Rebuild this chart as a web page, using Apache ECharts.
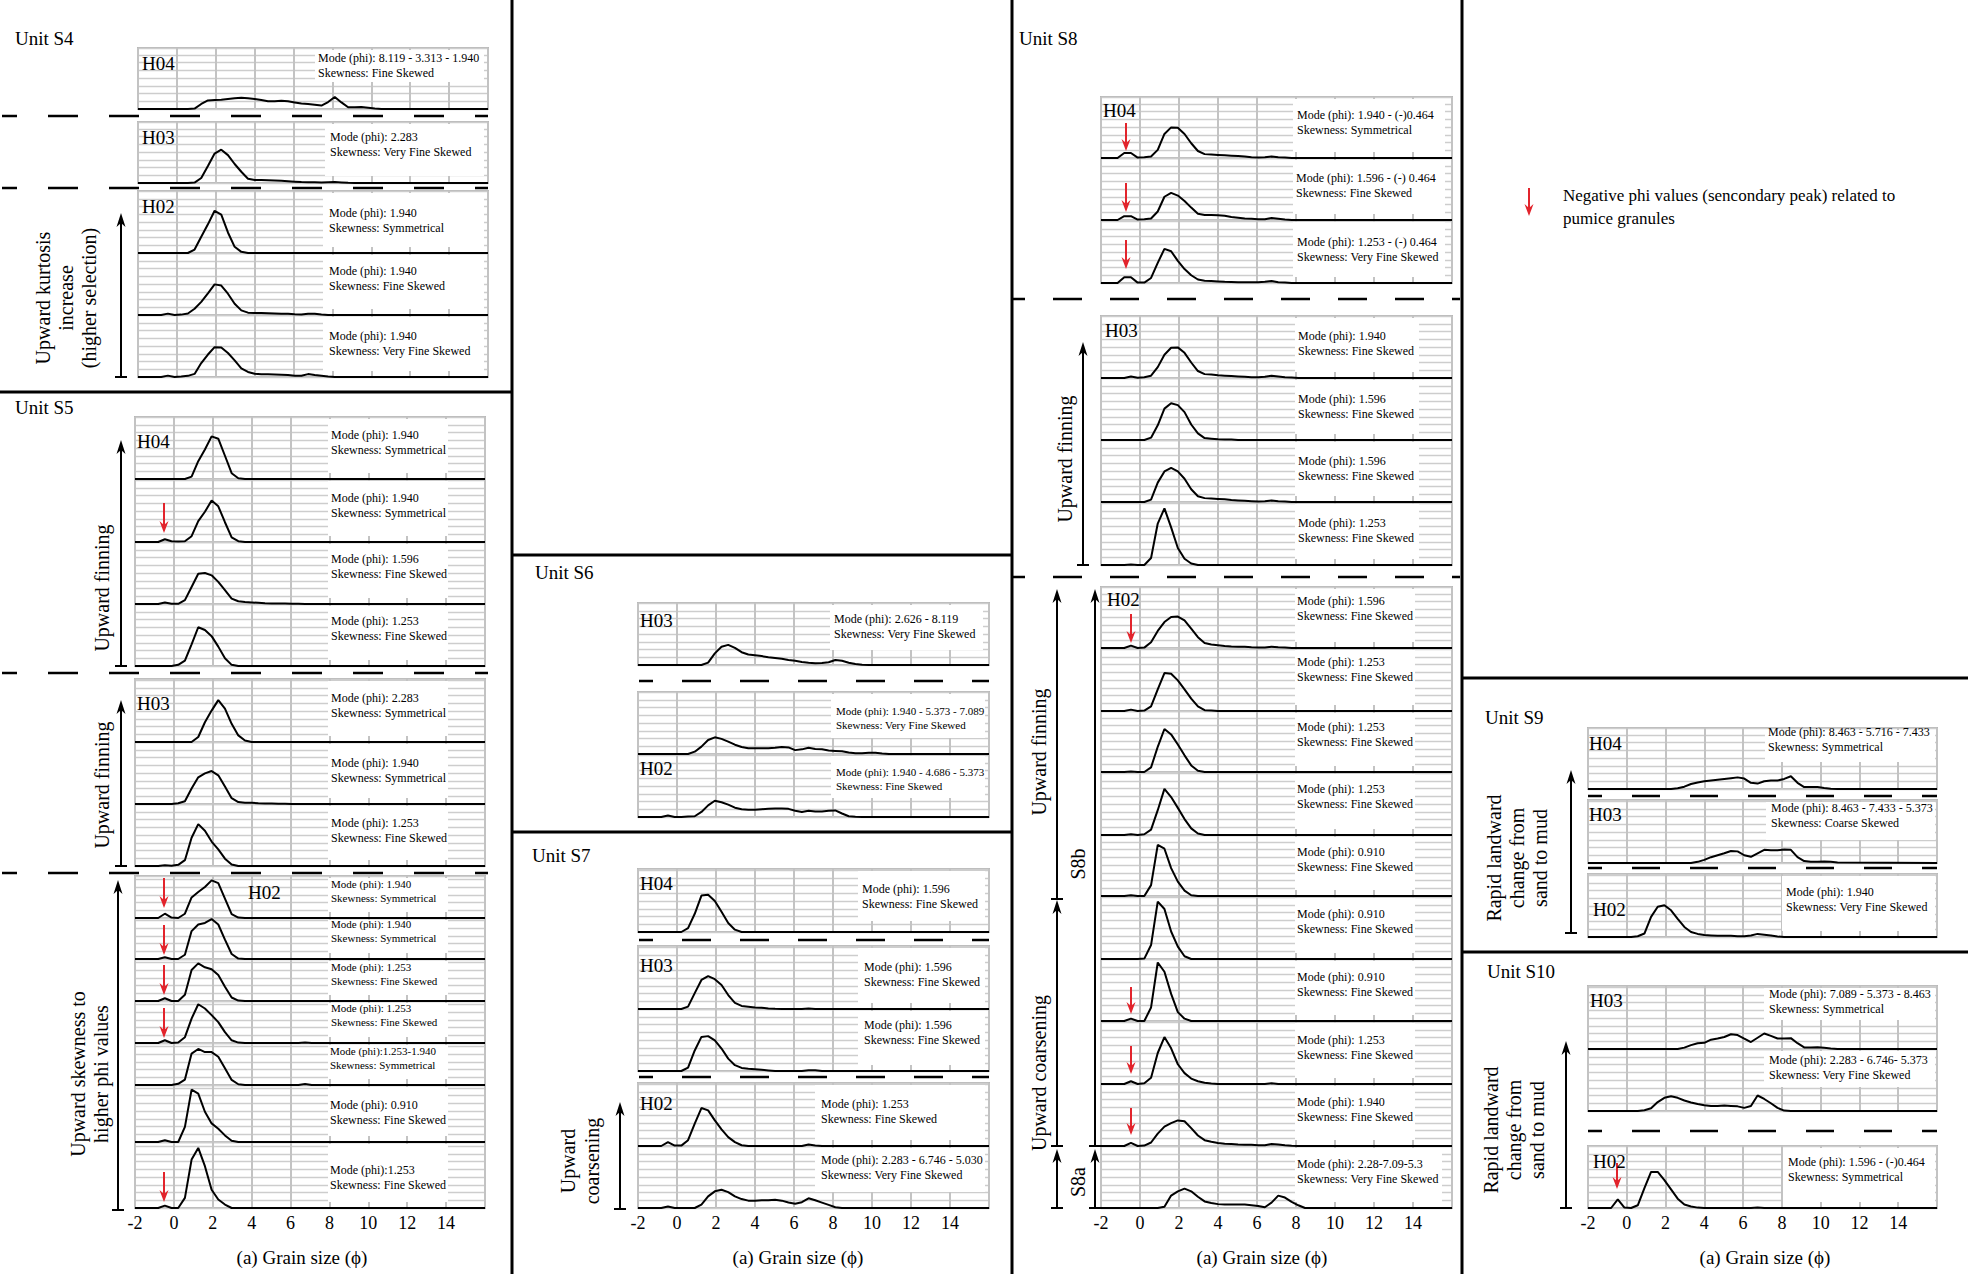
<!DOCTYPE html>
<html><head><meta charset="utf-8">
<script src="https://cdn.jsdelivr.net/npm/echarts@6/dist/echarts.min.js"></script>
<style>html,body{margin:0;padding:0;background:#fff}#c{width:1968px;height:1274px}</style>
</head><body><div id="c"></div>
<script>
// ---------- DATA ----------
// grain size bins (phi)
const PHI = [-2, -1.15, -0.807, -0.464, -0.121, 0.223, 0.567, 0.910, 1.253, 1.596, 1.940, 2.283, 2.626, 2.970, 3.313, 3.656, 3.999, 4.343, 4.686, 5.030, 5.373, 5.716, 6.059, 6.403, 6.746, 7.089, 7.433, 7.776, 8.119, 8.463, 8.806, 9.149, 9.492, 9.836, 10.18, 10.52, 10.87, 16];
const TICKS = [-2, 0, 2, 4, 6, 8, 10, 12, 14];
const TICK_LABELS = ['-2', '0', '2', '4', '6', '8', '10', '12', '14'];

// frequency values (%) per sample
const S4_H04 = [0,0,0,0,0,0,0,0.1, 1.3,2.2,2.3,2.4,2.6,2.8,2.9,2.8, 2.6,2.3,2.0,2.0,2.1,2.0,1.7,1.4, 1.3,1.1,0.9,1.8,3.1,1.7,0.45,0.45, 0.5,0.35,0.15,0,0,0];
const S4_H03 = [0,0,0,0,0,0,0,0.1, 1.3,4.4,7.6,8.6,7.2,4.9,2.9,1.1, 0.8,0.75,0.7,0.65,0.55,0.45,0.35,0.25, 0.2,0.2,0.15,0.2,0.25,0.15,0.05,0, 0,0,0,0,0,0];
const S4_H02_1 = [0,0,0,0,0,0,0,0.9, 4.2,7.4,10.9,9.9,5.3,1.6,0.3,0, 0,0,0,0,0,0,0,0, 0,0,0,0,0,0,0,0, 0,0,0,0,0,0];
const S4_H02_2 = [0,0,0,0.35,0,0.1,0.4,1.6, 3.4,5.6,7.9,7.6,5.5,2.9,1.2,0.6, 0.5,0.5,0.45,0.4,0.35,0.3,0.2,0.15, 0.35,0.3,0.1,0,0,0,0,0, 0,0,0,0,0,0];
const S4_H02_3 = [0,0,0,0.35,0,0.1,0.3,0.8, 3.6,5.8,7.7,7.6,6.2,4.3,2.2,1.3, 0.85,0.7,0.7,0.65,0.6,0.5,0.35,0.3, 0.75,0.5,0.3,0.1,0,0,0,0, 0,0,0,0,0,0];

const S5_H04_1 = [0,0,0,0,0,0,0,0.6, 4.6,7.6,11.0,10.4,6.0,1.5,0.2,0, 0,0,0,0,0,0,0,0, 0,0,0,0,0,0,0,0, 0,0,0,0,0,0];
const S5_H04_2 = [0,0,0,0.7,0.2,0.15,0.2,1.5, 5.4,7.8,10.7,9.2,5.1,1.2,0.2,0, 0,0,0,0,0,0,0,0, 0,0,0,0,0,0,0,0, 0,0,0,0,0,0];
const S5_H04_3 = [0,0,0,0.4,0.05,0.05,1.0,4.4, 7.8,8.0,7.4,5.7,3.6,1.4,0.7,0.5, 0.4,0.3,0.2,0.15,0.1,0.1,0.05,0.05, 0,0,0,0,0,0,0,0, 0,0,0,0,0,0];
const S5_H04_4 = [0,0,0,0,0,0.3,1.4,5.6, 10.0,9.3,7.7,5.0,2.0,0.3,0,0, 0,0,0,0,0,0,0,0, 0,0,0,0,0,0,0,0, 0,0,0,0,0,0];
const S5_H03_1 = [0,0,0,0,0,0,0,0, 1.3,5.1,8.1,10.8,8.6,4.7,1.7,0.4, 0,0,0,0,0,0,0,0, 0,0,0,0,0,0,0,0, 0,0,0,0,0,0];
const S5_H03_2 = [0,0,0,0,0,0.2,0.7,4.0, 6.9,7.9,8.5,7.4,4.5,1.5,0.5,0.35, 0.3,0.2,0.15,0.1,0.05,0.05,0,0, 0,0,0,0,0,0,0,0, 0,0,0,0,0,0];
const S5_H03_3 = [0,0,0,0.2,0.05,0.3,1.5,7.3, 10.8,9.1,6.3,4.3,1.9,0.4,0,0, 0,0,0,0,0,0,0,0, 0,0,0,0,0,0,0,0, 0,0,0,0,0,0];
const S5_H02_1 = [0,0,0,1.1,0.1,0,1.1,5.3, 6.7,8.0,9.7,9.0,5.0,1.0,0.1,0, 0,0,0,0,0,0,0,0, 0,0,0,0,0,0,0,0, 0,0,0,0,0,0];
const S5_H02_2 = [0,0,0,0.45,0,0,1.1,7.2, 8.9,9.3,10.3,8.9,5.0,1.3,0.1,0, 0,0,0,0,0,0,0,0, 0,0,0,0,0,0,0,0, 0,0,0,0,0,0];
const S5_H02_3 = [0,0,0,0.7,0,0,1.6,8.0, 9.7,8.7,8.2,6.7,3.7,0.9,0.1,0, 0,0,0,0,0,0,0,0, 0,0,0,0,0,0,0,0, 0,0,0,0,0,0];
const S5_H02_4 = [0,0,0,0.7,0,0.15,1.5,6.3, 10.0,8.9,7.2,5.4,2.8,0.7,0.1,0, 0,0,0,0,0,0,0,0, 0.15,0,0,0,0,0,0,0, 0,0,0,0,0,0];
const S5_H02_5 = [0,0,0,0,0,0.3,1.4,8.1, 9.3,8.5,8.5,7.3,4.3,1.3,0.2,0, 0,0,0,0,0,0,0,0, 0.25,0,0,0,0,0,0,0, 0,0,0,0,0,0];
const S5_H02_6 = [0,0,0,0.45,0,0,3.9,13.5, 12.5,7.8,4.8,3.4,1.7,0.3,0,0, 0,0,0,0,0,0,0,0, 0,0,0,0,0,0,0,0, 0,0,0,0,0,0];
const S5_H02_7 = [0,0,0,0.6,0,0,2.6,12.5, 15.5,10.8,4.7,2.2,0.9,0,0,0, 0,0,0,0,0,0,0,0, 0,0,0,0,0,0,0,0, 0,0,0,0,0,0];

const S6_H03 = [0,0,0,0,0,0,0,0, 0,0.6,3.0,4.7,5.2,4.4,3.3,2.7, 2.5,2.3,2.0,1.8,1.6,1.3,1.1,0.8, 0.6,0.45,0.5,0.7,1.3,1.1,0.6,0.25, 0.05,0,0,0,0,0];
const S6_H02_1 = [0,0,0,0,0,0,0,0.6, 1.9,3.6,4.3,3.9,3.2,2.4,1.8,1.5, 1.5,1.5,1.5,1.6,1.8,1.7,1.0,1.2, 1.6,1.3,1.2,0.9,0.8,0.7,0.4,0.2, 0.2,0.35,0.3,0.15,0,0];
const S6_H02_2 = [0,0,0,0.4,0,0,0.1,0.2, 1.3,3.0,4.2,3.8,3.2,2.4,2.0,1.9, 1.9,2.0,2.1,2.2,2.2,2.1,1.6,1.3, 1.6,1.4,1.4,1.6,1.7,0.9,0.2,0.05, 0,0,0,0,0,0];

const S7_H04 = [0,0,0,0,0,0,1.0,4.7, 9.4,9.6,8.0,5.2,2.3,0.6,0,0, 0,0,0,0,0,0,0,0, 0,0,0,0,0,0,0,0, 0,0,0,0,0,0];
const S7_H03_1 = [0,0,0,0,0,0,0.6,4.1, 7.5,8.5,7.7,6.2,3.6,1.6,0.8,0.6, 0.4,0.3,0.15,0.05,0,0,0,0, 0.15,0,0,0,0,0,0,0, 0,0,0,0,0,0];
const S7_H03_2 = [0,0,0,0,0,0,0.9,5.3, 8.8,9.0,7.9,5.8,3.2,1.5,0.8,0.6, 0.45,0.3,0.15,0,0,0,0,0, 0.2,0.2,0,0,0,0,0,0, 0,0,0,0,0,0];
const S7_H02_1 = [0,0,0,1.0,0.1,0.1,1.5,5.8, 9.8,9.2,6.6,4.3,2.3,1.0,0.2,0, 0,0,0,0,0,0,0,0, 0.4,0.15,0,0,0,0,0,0, 0,0,0,0,0,0];
const S7_H02_2 = [0,0,0,0.4,0,0,0,0, 0.9,3.0,4.3,4.7,4.1,3.0,2.3,1.9, 1.9,2.0,2.0,2.1,1.9,1.4,1.1,1.5, 2.5,2.0,1.4,0.8,0.2,0,0,0, 0,0,0,0,0,0];

const S8_H04_1 = [0,0,1.3,1.3,0.1,0.2,0.4,2.1, 6.2,7.9,7.8,6.2,3.8,1.8,1.0,0.9, 0.8,0.7,0.6,0.5,0.4,0.2,0.1,0.2, 0.4,0.2,0.1,0,0,0,0,0, 0,0,0,0,0,0];
const S8_H04_2 = [0,0,1.0,1.0,0.1,0.2,0.4,2.2, 6.0,7.0,6.3,4.9,3.2,1.6,1.3,1.3, 1.2,1.1,0.8,0.6,0.4,0.3,0.2,0.2, 0.5,0.3,0.1,0,0,0,0,0, 0,0,0,0,0,0];
const S8_H04_3 = [0,0,1.5,1.5,0.1,0.1,1.3,5.2, 8.8,8.2,5.7,3.6,2.0,0.9,0.6,0.5, 0.4,0.3,0.25,0.2,0.2,0.2,0.2,0.3, 0.5,0.2,0.1,0,0,0,0,0, 0,0,0,0,0,0];
const S8_H03_1 = [0,0,0,0.4,0.05,0.2,0.6,2.8, 6.0,7.8,7.9,6.5,4.0,1.8,1.0,0.9, 0.7,0.6,0.5,0.4,0.3,0.2,0.2,0.3, 0.6,0.4,0.2,0.1,0,0,0,0, 0,0,0,0,0,0];
const S8_H03_2 = [0,0,0,0,0,0,0.6,3.8, 8.1,9.5,9.0,7.2,4.0,1.7,0.5,0.35, 0.2,0.15,0.1,0,0,0,0,0, 0,0,0,0,0,0,0,0, 0,0,0,0,0,0];
const S8_H03_3 = [0,0,0,0,0,0,0.6,5.0, 7.9,8.8,7.9,6.0,3.3,1.5,1.0,0.9, 0.8,0.7,0.5,0.4,0.3,0.2,0.1,0.2, 0.4,0.2,0.1,0,0,0,0,0, 0,0,0,0,0,0];
const S8_H03_4 = [0,0,0,0.1,0,0,1.8,10.7, 14.6,9.7,4.4,1.6,0.4,0,0,0, 0,0,0,0,0,0,0,0, 0,0,0,0,0,0,0,0, 0,0,0,0,0,0];
const S8_H02_1 = [0,0,0,0.6,0,0.1,1.5,4.4, 6.7,8.0,8.1,7.1,5.0,2.8,1.3,0.9, 0.7,0.5,0.4,0.35,0.3,0.2,0.15,0.15, 0.35,0.2,0.1,0,0,0,0,0, 0,0,0,0,0,0];
const S8_H02_2 = [0,0,0,0.35,0,0.1,1.2,5.6, 9.8,9.6,7.9,5.6,3.2,1.2,0.2,0.1, 0,0,0,0,0,0,0,0, 0,0,0,0,0,0,0,0, 0,0,0,0,0,0];
const S8_H02_3 = [0,0,0,0.1,0,0,1.2,6.5, 11.1,9.7,7.1,4.3,1.7,0.3,0,0, 0,0,0,0,0,0,0,0, 0,0,0,0,0,0,0,0, 0,0,0,0,0,0];
const S8_H02_4 = [0,0,0,0.2,0,0.2,1.4,6.4, 11.9,9.8,7.0,4.1,1.7,0.4,0,0, 0,0,0,0,0,0,0,0, 0,0,0,0,0,0,0,0, 0,0,0,0,0,0];
const S8_H02_5 = [0,0,0,0.2,0,0,2.8,13.2, 12.2,7.2,3.7,1.4,0.2,0,0,0, 0,0,0,0,0,0,0,0, 0,0,0,0,0,0,0,0, 0,0,0,0,0,0];
const S8_H02_6 = [0,0,0,0,0,0.1,3.6,14.8, 12.9,7.1,3.2,0.7,0,0,0,0, 0,0,0,0,0,0,0,0, 0,0,0,0,0,0,0,0, 0,0,0,0,0,0];
const S8_H02_7 = [0,0,0,0.6,0,0,3.5,15.1, 12.7,7.0,2.3,0.6,0,0,0,0, 0,0,0,0,0,0,0,0, 0,0,0,0,0,0,0,0, 0,0,0,0,0,0];
const S8_H02_8 = [0,0,0,0.7,0,0.2,1.6,8.0, 12.1,9.2,5.1,2.8,1.4,0.7,0.3,0.1, 0,0,0,0,0,0,0,0, 0.2,0,0,0,0,0,0,0, 0,0,0,0,0,0];
const S8_H02_9 = [0,0,0,0.8,0,0.1,0.9,3.2, 5.0,5.9,6.6,6.4,4.6,2.7,1.5,1.1, 0.8,0.6,0.5,0.4,0.35,0.3,0.2,0.2, 0.5,0.4,0.2,0.05,0,0,0,0, 0,0,0,0,0,0];
const S8_H02_10 = [0,0,0,0,0,0,0,0, 0.3,3.2,4.3,5.0,4.3,2.9,1.7,1.3, 1.0,0.9,0.9,0.9,0.9,0.7,0.5,0.2, 1.4,3.2,2.7,1.6,0.7,0,0,0, 0,0,0,0,0,0];

const S9_H04 = [0,0,0,0,0,0,0,0, 0,0,0,0,0.2,0.6,1.3,1.7, 2.0,2.2,2.4,2.6,2.8,3.0,2.7,1.6, 1.4,2.0,2.2,2.2,2.6,3.3,1.6,0.5, 0.5,0.5,0.25,0.05,0,0];
const S9_H03 = [0,0,0,0,0,0,0,0, 0,0,0,0,0,0,0,0.3, 0.8,1.5,2.0,2.5,3.1,3.0,2.0,1.6, 2.5,3.4,3.3,3.3,3.5,3.4,1.5,0.5, 0.3,0.3,0.4,0.3,0.1,0];
const S9_H02 = [0,0,0,0,0,0,0.2,0.9, 5.2,7.8,8.2,6.9,4.7,2.6,1.3,0.8, 0.5,0.4,0.3,0.3,0.3,0.2,0.2,0.4, 0.8,0.6,0.4,0.15,0,0,0,0, 0,0,0,0,0,0];
const S10_H03_1 = [0,0,0,0,0,0,0,0, 0,0,0,0,0,0.35,1.0,1.5, 1.6,2.4,2.7,3.1,3.8,3.6,2.7,1.8, 2.9,4.0,3.4,2.7,2.7,2.8,1.5,0.4, 0.4,0.45,0.3,0.15,0,0];
const S10_H03_2 = [0,0,0,0,0,0,0,0.2, 0.7,2.3,3.4,3.8,3.4,2.7,2.2,1.8, 1.5,1.3,1.3,1.4,1.3,1.2,0.8,1.3, 4.0,3.1,2.0,0.8,0.1,0,0,0, 0,0,0,0,0,0];
const S10_H02 = [0,0,0,2.2,0.1,0,0.7,5.1, 9.3,9.3,7.2,4.8,2.4,0.9,0.4,0.1, 0,0,0,0,0,0,0,0, 0.15,0,0,0,0,0,0,0, 0,0,0,0,0,0];

// ---------- LAYOUT ----------
const SERIF = '"Liberation Serif", "Times New Roman", serif';
const COLS = {S4:[138,350], S5:[135,350], S6:[638,351], S7:[638,351], S8:[1101,351], S9:[1588,349], S10:[1588,349]};
const M = (m, s) => ['Mode (phi): ' + m, 'Skewness: ' + s];
const PANELS = [
 {u:'S4', top:48, bot:109, d:S4_H04, t:M('8.119 - 3.313 - 1.940','Fine Skewed'), tx:318, ty:58, fs:12, bx:[315,484], bh:32},
 {u:'S4', top:122, bot:183, d:S4_H03, t:M('2.283','Very Fine Skewed'), tx:330, ty:137, fs:12, bx:[325,484], bh:52},
 {u:'S4', top:191, bot:253, d:S4_H02_1, t:M('1.940','Symmetrical'), tx:329, ty:213, fs:12, bx:[323,484]},
 {u:'S4', top:253, bot:315, d:S4_H02_2, t:M('1.940','Fine Skewed'), tx:329, ty:271, fs:12, bx:[323,484]},
 {u:'S4', top:315, bot:377, d:S4_H02_3, t:M('1.940','Very Fine Skewed'), tx:329, ty:336, fs:12, bx:[323,484]},

 {u:'S5', top:417, bot:479, d:S5_H04_1, t:M('1.940','Symmetrical'), tx:331, ty:435, fs:12, bx:[328,448]},
 {u:'S5', top:479, bot:542, d:S5_H04_2, t:M('1.940','Symmetrical'), tx:331, ty:498, fs:12, bx:[328,448]},
 {u:'S5', top:542, bot:604, d:S5_H04_3, t:M('1.596','Fine Skewed'), tx:331, ty:559, fs:12, bx:[328,448]},
 {u:'S5', top:604, bot:666, d:S5_H04_4, t:M('1.253','Fine Skewed'), tx:331, ty:621, fs:12, bx:[328,448]},
 {u:'S5', top:679, bot:742, d:S5_H03_1, t:M('2.283','Symmetrical'), tx:331, ty:698, fs:12, bx:[328,448]},
 {u:'S5', top:742, bot:804, d:S5_H03_2, t:M('1.940','Symmetrical'), tx:331, ty:763, fs:12, bx:[328,448]},
 {u:'S5', top:804, bot:866, d:S5_H03_3, t:M('1.253','Fine Skewed'), tx:331, ty:823, fs:12, bx:[328,448]},
 {u:'S5', top:876, bot:918, d:S5_H02_1, t:M('1.940','Symmetrical'), tx:331, ty:884, fs:11, bx:[328,448]},
 {u:'S5', top:918, bot:959, d:S5_H02_2, t:M('1.940','Symmetrical'), tx:331, ty:924, fs:11, bx:[328,448]},
 {u:'S5', top:959, bot:1001, d:S5_H02_3, t:M('1.253','Fine Skewed'), tx:331, ty:967, fs:11, bx:[328,448]},
 {u:'S5', top:1001, bot:1043, d:S5_H02_4, t:M('1.253','Fine Skewed'), tx:331, ty:1008, fs:11, bx:[328,448]},
 {u:'S5', top:1043, bot:1085, d:S5_H02_5, t:['Mode (phi):1.253-1.940','Skewness: Symmetrical'], tx:330, ty:1051, fs:11, bx:[328,448]},
 {u:'S5', top:1085, bot:1142, d:S5_H02_6, t:M('0.910','Fine Skewed'), tx:330, ty:1105, fs:12, bx:[328,448]},
 {u:'S5', top:1142, bot:1208, d:S5_H02_7, t:['Mode (phi):1.253','Skewness: Fine Skewed'], tx:330, ty:1170, fs:12, bx:[328,448], ax:true},

 {u:'S6', top:603, bot:665, d:S6_H03, t:M('2.626 - 8.119','Very Fine Skewed'), tx:834, ty:619, fs:12, bx:[830,983], bh:45},
 {u:'S6', top:692, bot:754, d:S6_H02_1, t:M('1.940 - 5.373 - 7.089','Very Fine Skewed'), tx:836, ty:711, fs:11, bx:[831,985], bh:44},
 {u:'S6', top:754, bot:817, d:S6_H02_2, t:M('1.940 - 4.686 - 5.373','Fine Skewed'), tx:836, ty:772, fs:11, bx:[831,985], bh:42},

 {u:'S7', top:869, bot:932, d:S7_H04, t:M('1.596','Fine Skewed'), tx:862, ty:889, fs:12, bx:[858,985], bh:50},
 {u:'S7', top:946, bot:1009, d:S7_H03_1, t:M('1.596','Fine Skewed'), tx:864, ty:967, fs:12, bx:[858,985]},
 {u:'S7', top:1009, bot:1071, d:S7_H03_2, t:M('1.596','Fine Skewed'), tx:864, ty:1025, fs:12, bx:[858,985]},
 {u:'S7', top:1083, bot:1146, d:S7_H02_1, t:M('1.253','Fine Skewed'), tx:821, ty:1104, fs:12, bx:[815,985]},
 {u:'S7', top:1146, bot:1208, d:S7_H02_2, t:M('2.283 - 6.746 - 5.030','Very Fine Skewed'), tx:821, ty:1160, fs:12, bx:[815,985], bh:44, ax:true},

 {u:'S8', top:97, bot:158, d:S8_H04_1, t:M('1.940 - (-)0.464','Symmetrical'), tx:1297, ty:115, fs:12, bx:[1293,1445]},
 {u:'S8', top:158, bot:220, d:S8_H04_2, t:M('1.596 - (-) 0.464','Fine Skewed'), tx:1296, ty:178, fs:12, bx:[1293,1445]},
 {u:'S8', top:220, bot:283, d:S8_H04_3, t:M('1.253 - (-) 0.464','Very Fine Skewed'), tx:1297, ty:242, fs:12, bx:[1293,1445]},
 {u:'S8', top:316, bot:378, d:S8_H03_1, t:M('1.940','Fine Skewed'), tx:1298, ty:336, fs:12, bx:[1295,1419]},
 {u:'S8', top:378, bot:440, d:S8_H03_2, t:M('1.596','Fine Skewed'), tx:1298, ty:399, fs:12, bx:[1295,1419]},
 {u:'S8', top:440, bot:502, d:S8_H03_3, t:M('1.596','Fine Skewed'), tx:1298, ty:461, fs:12, bx:[1295,1419]},
 {u:'S8', top:502, bot:565, d:S8_H03_4, t:M('1.253','Fine Skewed'), tx:1298, ty:523, fs:12, bx:[1295,1419]},
 {u:'S8', top:587, bot:648, d:S8_H02_1, t:M('1.596','Fine Skewed'), tx:1297, ty:601, fs:12, bx:[1295,1415]},
 {u:'S8', top:648, bot:711, d:S8_H02_2, t:M('1.253','Fine Skewed'), tx:1297, ty:662, fs:12, bx:[1295,1415]},
 {u:'S8', top:711, bot:772, d:S8_H02_3, t:M('1.253','Fine Skewed'), tx:1297, ty:727, fs:12, bx:[1295,1415]},
 {u:'S8', top:772, bot:835, d:S8_H02_4, t:M('1.253','Fine Skewed'), tx:1297, ty:789, fs:12, bx:[1295,1415]},
 {u:'S8', top:835, bot:896, d:S8_H02_5, t:M('0.910','Fine Skewed'), tx:1297, ty:852, fs:12, bx:[1295,1415]},
 {u:'S8', top:896, bot:959, d:S8_H02_6, t:M('0.910','Fine Skewed'), tx:1297, ty:914, fs:12, bx:[1295,1415]},
 {u:'S8', top:959, bot:1021, d:S8_H02_7, t:M('0.910','Fine Skewed'), tx:1297, ty:977, fs:12, bx:[1295,1415]},
 {u:'S8', top:1021, bot:1084, d:S8_H02_8, t:M('1.253','Fine Skewed'), tx:1297, ty:1040, fs:12, bx:[1295,1415]},
 {u:'S8', top:1084, bot:1146, d:S8_H02_9, t:M('1.940','Fine Skewed'), tx:1297, ty:1102, fs:12, bx:[1295,1415]},
 {u:'S8', top:1146, bot:1208, d:S8_H02_10, t:M('2.28-7.09-5.3','Very Fine Skewed'), tx:1297, ty:1164, fs:12, bx:[1295,1442], ax:true},

 {u:'S9', top:728, bot:789, d:S9_H04, t:M('8.463 - 5.716 - 7.433','Symmetrical'), tx:1768, ty:732, fs:12, bx:[1765,1935], bh:32},
 {u:'S9', top:800, bot:863, d:S9_H03, t:M('8.463 - 7.433 - 5.373','Coarse Skewed'), tx:1771, ty:808, fs:12, bx:[1766,1935], bh:38},
 {u:'S9', top:874, bot:937, d:S9_H02, t:M('1.940','Very Fine Skewed'), tx:1786, ty:892, fs:12, bx:[1782,1935]},
 {u:'S10', top:986, bot:1049, d:S10_H03_1, t:M('7.089 - 5.373 - 8.463','Symmetrical'), tx:1769, ty:994, fs:12, bx:[1764,1935], bh:32},
 {u:'S10', top:1049, bot:1111, d:S10_H03_2, t:M('2.283 - 6.746- 5.373','Very Fine Skewed'), tx:1769, ty:1060, fs:12, bx:[1764,1935], bh:36},
 {u:'S10', top:1146, bot:1208, d:S10_H02, t:M('1.596 - (-)0.464','Symmetrical'), tx:1788, ty:1162, fs:12, bx:[1783,1935], ax:true}
];

// ---------- BUILD ----------
const grids = [], xAxes = [], yAxes = [], series = [], graphics = [];
const RED = '#e2242c';

function txt(s, x, y, fs, o) {
  o = o || {};
  graphics.push({type:'text', x:x, y:y, rotation:o.rot || 0, z:20,
    style:{text:s, fontSize:fs, fontFamily:SERIF, fill:'#000',
      align:o.align || 'left', verticalAlign:o.va || 'middle',
      textAlign:o.align || 'left', textVerticalAlign:o.va || 'middle',
      lineHeight:o.lh || Math.round(fs * 1.2)}});
}
function seg(x1, y1, x2, y2, w, c, dash, off) {
  const st = {stroke:c || '#000', lineWidth:w || 2};
  if (dash) { st.lineDash = dash; st.lineDashOffset = off || 0; }
  graphics.push({type:'line', z:18, shape:{x1:x1, y1:y1, x2:x2, y2:y2}, style:st});
}
function upArrow(x, yb, yt) {
  seg(x, yb, x, yt + 8, 2);
  graphics.push({type:'polygon', z:18, shape:{points:[[x - 4.5, yt + 14], [x, yt], [x + 4.5, yt + 14], [x, yt + 10]]}, style:{fill:'#000'}});
  seg(x - 6, yb, x + 6, yb, 2);
}
function redArrow(x, y0, y1) {
  seg(x, y0, x, y1 - 6, 2, RED);
  graphics.push({type:'polygon', z:18, shape:{points:[[x - 4.5, y1 - 12], [x, y1 - 8], [x + 4.5, y1 - 12], [x, y1]]}, style:{fill:RED}});
}

PANELS.forEach(function (p, i) {
  const L = COLS[p.u][0], W = COLS[p.u][1], h = p.bot - p.top;
  grids.push({left:L, top:p.top, width:W, height:h, show:true, borderColor:'#b8b8b8', borderWidth:2, backgroundColor:'transparent'});
  xAxes.push({gridIndex:i, type:'value', min:-2, max:16, interval:2,
    axisLine:{show:false}, axisTick:{show:false},
    axisLabel:{show:!!p.ax, fontSize:18, fontFamily:SERIF, color:'#000', margin:6,
      formatter:function (v) { const k = TICKS.indexOf(v); return k >= 0 ? TICK_LABELS[k] : ''; }},
    splitLine:{show:true, lineStyle:{color:'#c3c3c3', width:2}}});
  yAxes.push({gridIndex:i, type:'value', min:0, max:h * 16 / 62, interval:2,
    axisLine:{show:false}, axisTick:{show:false}, axisLabel:{show:false},
    splitLine:{show:true, lineStyle:{color:'#cdcdcd', width:1.3}}});
  series.push({type:'line', xAxisIndex:i, yAxisIndex:i, z:10, clip:false, silent:true,
    showSymbol:false, symbol:'none', animation:false,
    lineStyle:{color:'#000', width:2},
    data:PHI.map(function (x, k) { return [x, p.d[k]]; })});
  const bh = p.bh || (h - 8);
  graphics.push({type:'rect', z:5, shape:{x:p.bx[0], y:p.top + 2, width:p.bx[1] - p.bx[0], height:bh}, style:{fill:'#fff'}});
  const lh = p.fs + 2.5;
  txt(p.t.join('\n'), p.tx, p.ty - lh / 2, p.fs, {va:'top', lh:lh});
});

// dividers
seg(512, 0, 512, 1274, 3); seg(1012, 0, 1012, 1274, 3); seg(1462, 0, 1462, 1274, 3);
seg(0, 392, 512, 392, 3); seg(512, 555, 1012, 555, 3); seg(512, 832, 1012, 832, 3);
seg(1462, 678, 1968, 678, 3); seg(1462, 952, 1968, 952, 3);
// dashed separators
[116, 188, 673, 873].forEach(function (y) { seg(2, y, 488, y, 2.5, '#000', [30, 31], 15); });
[681, 940, 1077].forEach(function (y) { seg(639, y, 989, y, 2.5, '#000', [29, 29], 15); });
[299, 577].forEach(function (y) { seg(1012, y, 1460, y, 2.5, '#000', [29, 28], 16); });
[796, 868, 1131].forEach(function (y) { seg(1588, y, 1937, y, 2.5, '#000', [28, 30], 14); });

// unit titles
txt('Unit S4', 15, 38, 19); txt('Unit S5', 15, 407, 19); txt('Unit S6', 535, 572, 19);
txt('Unit S7', 532, 855, 19); txt('Unit S8', 1019, 38, 19); txt('Unit S9', 1485, 717, 19);
txt('Unit S10', 1487, 971, 19);
// horizon labels
[['H04',142,63],['H03',142,137],['H02',142,206],['H04',137,441],['H03',137,703],['H02',248,892],
 ['H03',640,620],['H02',640,768],['H04',640,883],['H03',640,965],['H02',640,1103],
 ['H04',1103,110],['H03',1105,330],['H02',1107,599],['H04',1589,743],['H03',1589,814],['H02',1593,909],
 ['H03',1590,1000],['H02',1593,1161]].forEach(function (a) { txt(a[0], a[1], a[2], 19); });
// axis titles
[302, 798, 1262, 1765].forEach(function (x) { txt('(a) Grain size (\u03d5)', x, 1257, 19, {align:'center'}); });

// trend arrows and rotated annotations
upArrow(121, 377, 213); upArrow(121, 666, 440); upArrow(121, 866, 700); upArrow(118, 1210, 880);
upArrow(620, 1209, 1102); upArrow(1083, 565, 342);
upArrow(1057, 899, 589); upArrow(1057, 1146, 900); upArrow(1057, 1208, 1149);
upArrow(1095, 1146, 589); upArrow(1095, 1208, 1149);
upArrow(1571, 933, 770); upArrow(1566, 1208, 1041);
const R = Math.PI / 2;
txt('Upward kurtosis\nincrease\n(higher selection)', 66, 298, 20, {rot:R, align:'center', lh:23});
txt('Upward finning', 102, 588, 20, {rot:R, align:'center'});
txt('Upward finning', 102, 785, 20, {rot:R, align:'center'});
txt('Upward skewness to\nhigher phi values', 89, 1074, 20, {rot:R, align:'center', lh:23});
txt('Upward\ncoarsening', 580, 1161, 20, {rot:R, align:'center', lh:24});
txt('Upward finning', 1065, 459, 20, {rot:R, align:'center'});
txt('Upward finning', 1039, 752, 20, {rot:R, align:'center'});
txt('Upward coarsening', 1039, 1073, 20, {rot:R, align:'center'});
txt('S8b', 1078, 864, 20, {rot:R, align:'center'});
txt('S8a', 1078, 1182, 20, {rot:R, align:'center'});
txt('Rapid landward\nchange from\nsand to mud', 1517, 858, 20, {rot:R, align:'center', lh:23});
txt('Rapid landward\nchange from\nsand to mud', 1514, 1130, 20, {rot:R, align:'center', lh:23});

// red arrows (secondary negative-phi peak)
[[164,503,533],[164,878,908],[164,925,955],[164,965,995],[164,1008,1038],[164,1172,1202],
 [1126,123,151],[1126,183,212],[1126,240,269],
 [1131,614,643],[1131,987,1014],[1131,1046,1074],[1131,1108,1135],
 [1617,1163,1189],[1529,188,216]].forEach(function (a) { redArrow(a[0], a[1], a[2]); });
// legend
txt('Negative phi values (sencondary peak) related to\npumice granules', 1563, 184, 17, {va:'top', lh:23});

const chart = echarts.init(document.getElementById('c'), null, {renderer:'svg', width:1968, height:1274});
chart.setOption({
  animation:false,
  backgroundColor:'#fff',
  textStyle:{fontFamily:SERIF},
  grid:grids, xAxis:xAxes, yAxis:yAxes, series:series,
  graphic:{elements:graphics}
});
</script>
</body></html>
